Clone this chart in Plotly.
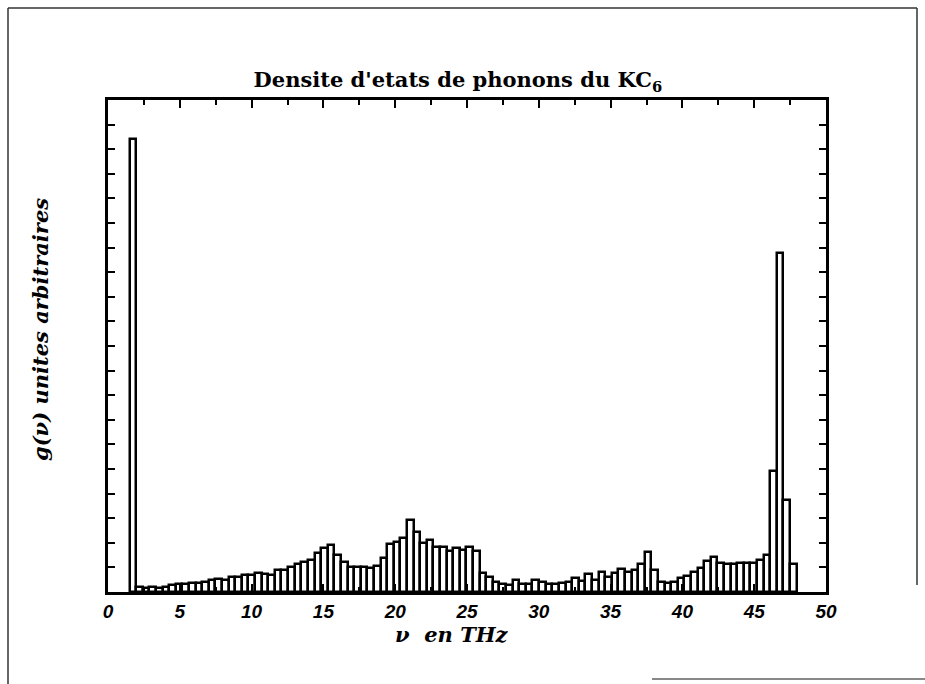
import plotly.graph_objects as go

# Phonon density of states of KC6, histogram with 0.46 THz bins
bin_width = 0.46
nu_centers = [
    1.73, 2.19, 2.65, 3.11, 3.57, 4.03, 4.49, 4.95, 5.41, 5.87,
    6.33, 6.79, 7.25, 7.71, 8.17, 8.63, 9.09, 9.55, 10.01, 10.47,
    10.93, 11.39, 11.85, 12.31, 12.77, 13.23, 13.69, 14.15, 14.61, 15.07,
    15.53, 15.99, 16.45, 16.91, 17.37, 17.83, 18.29, 18.75, 19.21, 19.67,
    20.13, 20.59, 21.05, 21.51, 21.97, 22.43, 22.89, 23.35, 23.81, 24.27,
    24.73, 25.19, 25.65, 26.11, 26.57, 27.03, 27.49, 27.95, 28.41, 28.87,
    29.33, 29.79, 30.25, 30.71, 31.17, 31.63, 32.09, 32.55, 33.01, 33.47,
    33.93, 34.39, 34.85, 35.31, 35.77, 36.23, 36.69, 37.15, 37.61, 38.07,
    38.53, 38.99, 39.45, 39.91, 40.37, 40.83, 41.29, 41.75, 42.21, 42.67,
    43.13, 43.59, 44.05, 44.51, 44.97, 45.43, 45.89, 46.35, 46.81, 47.27,
    47.73,
]
g_nu = [
    18.4, 0.22, 0.15, 0.20, 0.15, 0.22, 0.28, 0.32, 0.33, 0.36,
    0.38, 0.41, 0.48, 0.52, 0.50, 0.60, 0.63, 0.68, 0.70, 0.79,
    0.72, 0.70, 0.90, 0.90, 1.03, 1.12, 1.20, 1.30, 1.60, 1.80,
    1.92, 1.50, 1.20, 1.02, 1.00, 1.00, 0.97, 1.05, 1.38, 1.96,
    2.05, 2.18, 2.93, 2.45, 1.98, 2.10, 1.82, 1.82, 1.66, 1.77,
    1.72, 1.82, 1.66, 0.76, 0.60, 0.40, 0.33, 0.30, 0.47, 0.33,
    0.33, 0.48, 0.40, 0.33, 0.33, 0.36, 0.40, 0.55, 0.45, 0.75,
    0.48, 0.80, 0.62, 0.78, 0.92, 0.82, 0.90, 1.12, 1.64, 0.90,
    0.42, 0.38, 0.42, 0.55, 0.65, 0.83, 0.96, 1.27, 1.41, 1.17,
    1.14, 1.14, 1.17, 1.17, 1.17, 1.30, 1.50, 4.90, 13.8, 3.74,
    1.14,
]
x_ticks = [0, 5, 10, 15, 20, 25, 30, 35, 40, 45, 50]

fig = go.Figure(
    go.Bar(
        x=nu_centers,
        y=g_nu,
        width=bin_width,
        marker=dict(color="white", line=dict(color="black", width=2.5)),
        hoverinfo="x+y",
    )
)

tick_font = dict(family="Liberation Sans", size=19, color="black",
                 weight="bold", style="italic")
label_font = dict(family="DejaVu Serif", size=21, color="black",
                  weight="bold", style="italic")

fig.update_layout(
    width=925,
    height=684,
    margin=dict(l=108, r=99, t=100, b=92),
    paper_bgcolor="white",
    plot_bgcolor="white",
    showlegend=False,
    bargap=0,
    title=dict(
        text="Densite d'etats de phonons du KC<sub>6</sub>",
        x=0.495, xanchor="center",
        y=1 - 80 / 684, yanchor="middle",
        font=dict(family="DejaVu Serif", size=21, color="black", weight="bold"),
    ),
    xaxis=dict(
        range=[0, 50],
        tickvals=x_ticks,
        ticktext=[str(t) for t in x_ticks],
        tickfont=tick_font,
        ticks="inside", ticklen=8, tickwidth=2, tickcolor="black",
        minor=dict(dtick=2.5, ticks="inside", ticklen=5, tickwidth=2,
                   tickcolor="black", showgrid=False),
        showline=True, linecolor="black", linewidth=3, mirror="ticks",
        showgrid=False, zeroline=False,
    ),
    yaxis=dict(
        range=[0, 20],
        dtick=1,
        showticklabels=False,
        ticks="inside", ticklen=7, tickwidth=2, tickcolor="black",
        showline=True, linecolor="black", linewidth=3, mirror="ticks",
        showgrid=False, zeroline=False,
    ),
)

px_w, px_h = 925 - 108 - 99, 684 - 100 - 92


def paper_x(px):
    return (px - 108) / px_w


def paper_y(py):
    return (684 - 92 - py) / px_h


# Axis titles
fig.add_annotation(text="ν  en THz", xref="paper", yref="paper",
                   x=paper_x(452), y=paper_y(634), xanchor="center", yanchor="middle",
                   showarrow=False, font=label_font)
fig.add_annotation(text="g(ν) unites arbitraires", xref="paper", yref="paper",
                   x=paper_x(40), y=paper_y(330), xanchor="center", yanchor="middle",
                   textangle=-90, showarrow=False, font=label_font)

# Outer frame around the figure
frame = dict(type="line", xref="paper", yref="paper",
             line=dict(color="#333333", width=1.5))
fig.add_shape(**frame, x0=paper_x(8), x1=paper_x(8), y0=paper_y(8), y1=paper_y(684))
fig.add_shape(**frame, x0=paper_x(8), x1=paper_x(917), y0=paper_y(8), y1=paper_y(8))
fig.add_shape(**frame, x0=paper_x(917), x1=paper_x(917), y0=paper_y(8), y1=paper_y(585))
fig.add_shape(type="line", xref="paper", yref="paper",
              line=dict(color="#888888", width=2),
              x0=paper_x(652), x1=paper_x(925), y0=paper_y(679), y1=paper_y(679))

fig.write_html("out.html")
